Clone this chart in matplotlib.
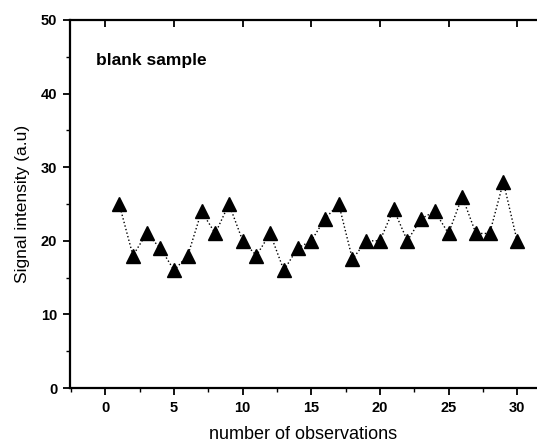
import matplotlib
matplotlib.use("Agg")
import matplotlib.pyplot as plt
from matplotlib.ticker import MultipleLocator, NullLocator

plt.rcParams['font.family'] = ['Liberation Sans', 'DejaVu Sans']

obs = list(range(1, 31))
signal = [25, 18, 21, 19, 16, 18, 24, 21, 25, 20,
          18, 21, 16, 19, 20, 23, 25, 17.5, 20, 20,
          24.3, 20, 23, 24, 21, 26, 21, 21, 28, 20]

fig = plt.figure(figsize=(5.37, 4.43), dpi=100)
ax = fig.add_axes([0.130, 0.124, 0.870, 0.831])

ax.plot(obs, signal, linestyle=':', color='black', linewidth=1.0,
        marker='^', markersize=9.5, markerfacecolor='black', markeredgecolor='black')

ax.set_xlim(-2.6, 31.45)
ax.set_ylim(0, 50)
ax.xaxis.set_major_locator(MultipleLocator(5))
ax.xaxis.set_minor_locator(MultipleLocator(2.5))
ax.yaxis.set_major_locator(MultipleLocator(10))
ax.yaxis.set_minor_locator(MultipleLocator(5))

for s in ['left', 'bottom', 'top']:
    ax.spines[s].set_linewidth(1.6)
ax.spines['right'].set_visible(False)

ax.tick_params(which='major', direction='out', length=5, width=1.3,
               labelsize=10.5, pad=4)
ax.tick_params(which='minor', direction='out', length=3, width=1.0)
for lbl in ax.get_xticklabels() + ax.get_yticklabels():
    lbl.set_fontweight('bold')

# inward ticks along the top edge
top = ax.secondary_xaxis('top')
top.xaxis.set_major_locator(MultipleLocator(5))
top.xaxis.set_minor_locator(NullLocator())
top.tick_params(direction='in', length=5, width=1.3, labeltop=False)
top.spines['top'].set_visible(False)

ax.set_xlabel('number of observations', fontsize=13, labelpad=8)
ax.set_ylabel('Signal intensity (a.u)', fontsize=12.5, labelpad=8)
ax.text(0.056, 0.889, 'blank sample', transform=ax.transAxes,
        fontsize=12.5, fontweight='bold', ha='left', va='center')

fig.savefig('out.png', dpi=100)
